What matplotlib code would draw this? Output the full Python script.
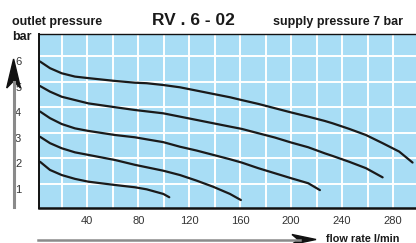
import matplotlib
matplotlib.use("Agg")
import matplotlib.pyplot as plt
from matplotlib.patches import Polygon
from matplotlib.lines import Line2D
from matplotlib.transforms import ScaledTranslation

plt.rcParams['font.family'] = ['Liberation Sans', 'DejaVu Sans']

# ---- data (flow rate l/min, outlet pressure bar) ----
flow_6 = [3.0, 10.8, 20.0, 30.4, 40.9, 61.8, 77.5, 86.7, 99.7, 112.8, 125.9, 138.9, 152.0,
          161.2, 174.2, 187.3, 200.4, 213.4, 226.5, 232.5, 245.6, 258.7, 271.8, 284.8, 295.3]
pres_6 = [5.80, 5.54, 5.34, 5.21, 5.15, 5.04, 4.97, 4.95, 4.88, 4.79, 4.66, 4.53, 4.40,
          4.29, 4.14, 3.97, 3.80, 3.64, 3.47, 3.38, 3.16, 2.92, 2.60, 2.27, 1.84]

flow_5 = [3.0, 10.8, 20.0, 30.4, 40.9, 61.8, 77.5, 99.7, 112.8, 125.9, 138.9, 152.0,
          161.2, 174.2, 187.3, 200.4, 213.4, 226.5, 232.5, 245.6, 258.7, 271.8]
pres_5 = [4.84, 4.62, 4.42, 4.29, 4.16, 4.01, 3.90, 3.77, 3.64, 3.51, 3.38, 3.25,
          3.16, 2.99, 2.82, 2.62, 2.44, 2.20, 2.10, 1.87, 1.62, 1.26]

flow_4 = [3.0, 10.8, 20.0, 30.4, 40.9, 61.8, 77.5, 86.7, 99.7, 112.8, 125.9, 138.9,
          152.0, 161.2, 174.2, 187.3, 200.4, 213.4, 222.6]
pres_4 = [3.84, 3.58, 3.35, 3.18, 3.08, 2.92, 2.83, 2.75, 2.64, 2.46, 2.31, 2.14,
          1.97, 1.84, 1.62, 1.42, 1.22, 1.03, 0.76]

flow_3 = [3.0, 10.8, 20.0, 30.4, 40.9, 61.8, 77.5, 99.7, 112.8, 125.9, 138.9, 152.0, 160.6]
pres_3 = [2.85, 2.60, 2.40, 2.24, 2.14, 1.94, 1.75, 1.52, 1.35, 1.13, 0.89, 0.61, 0.37]

flow_2 = [3.0, 10.8, 20.0, 30.4, 40.9, 61.8, 77.5, 86.7, 99.7, 104.4]
pres_2 = [1.87, 1.55, 1.35, 1.20, 1.09, 0.96, 0.87, 0.79, 0.61, 0.48]

x_ticks = [40, 80, 120, 160, 200, 240, 280]
y_ticks = [1, 2, 3, 4, 5, 6]

W, H = 416, 243
fig = plt.figure(figsize=(W / 100, H / 100), dpi=100)
ax = fig.add_axes([39.3 / W, 1 - 207.7 / H, 1 - 39.3 / W, (207.7 - 34) / H])
ax.set_facecolor('#a8ddf5')
ax.set_xlim(2.4, 298)
ax.set_ylim(0.07, 6.88)

ax.set_xticks(range(20, 300, 20), minor=True)
ax.set_xticks(x_ticks)
ax.set_yticks(y_ticks)
ax.grid(True, which='both', axis='x', color='white', lw=1.4)
ax.grid(True, which='major', axis='y', color='white', lw=1.4)
ax.set_axisbelow(True)
ax.tick_params(which='both', length=0)
ax.tick_params(axis='x', pad=6, labelsize=8, labelcolor='#333333')
ax.tick_params(axis='y', pad=13, labelsize=8, labelcolor='#333333')
for lab in ax.get_yticklabels():
    lab.set_transform(lab.get_transform() + ScaledTranslation(0, -5 / 100, fig.dpi_scale_trans))

for s in ['left', 'bottom', 'top']:
    ax.spines[s].set_color('#111111')
ax.spines['left'].set_linewidth(1.4)
ax.spines['bottom'].set_linewidth(1.8)
ax.spines['top'].set_linewidth(1.0)
ax.spines['right'].set_visible(False)

for fx, py in [(flow_6, pres_6), (flow_5, pres_5), (flow_4, pres_4), (flow_3, pres_3), (flow_2, pres_2)]:
    ax.plot(fx, py, color='#1a1a1a', lw=1.6, solid_capstyle='round', solid_joinstyle='round')

def P(x, y):
    return (x / W, 1 - y / H)

# left vertical arrow
fig.add_artist(Line2D([14 / W, 14 / W], [1 - 207 / H, 1 - 82 / H], color='#8a8a8a', lw=2.2))
fig.add_artist(Polygon([P(13.6, 59), P(20.5, 88), P(13.6, 81), P(6.7, 88)], closed=True,
                       color='#111111', transform=fig.transFigure))
# bottom horizontal arrow
fig.add_artist(Line2D([38 / W, 300 / W], [1 - 239.5 / H, 1 - 239.5 / H], color='#8a8a8a', lw=1.8))
fig.add_artist(Polygon([P(316, 239.5), P(292, 234.5), P(298, 239.5), P(292, 244.5)], closed=True,
                       color='#111111', transform=fig.transFigure))

fig.text(12 / W, 1 - 25 / H, 'outlet pressure', fontsize=9, fontweight='bold', color='#1a1a1a',
         ha='left', va='baseline')
fig.text(12 / W, 1 - 40 / H, 'bar', fontsize=9, fontweight='bold', color='#1a1a1a',
         ha='left', va='baseline')
fig.text(193 / W, 1 - 25 / H, 'RV . 6 - 02', fontsize=12.5, fontweight='bold', color='#1a1a1a',
         ha='center', va='baseline')
fig.text(273 / W, 1 - 25 / H, 'supply pressure 7 bar', fontsize=9, fontweight='bold',
         color='#1a1a1a', ha='left', va='baseline')
fig.text(326 / W, 1 - 241.5 / H, 'flow rate l/min', fontsize=7.8, fontweight='bold',
         color='#1a1a1a', ha='left', va='baseline')

fig.savefig('out.png', dpi=100)
